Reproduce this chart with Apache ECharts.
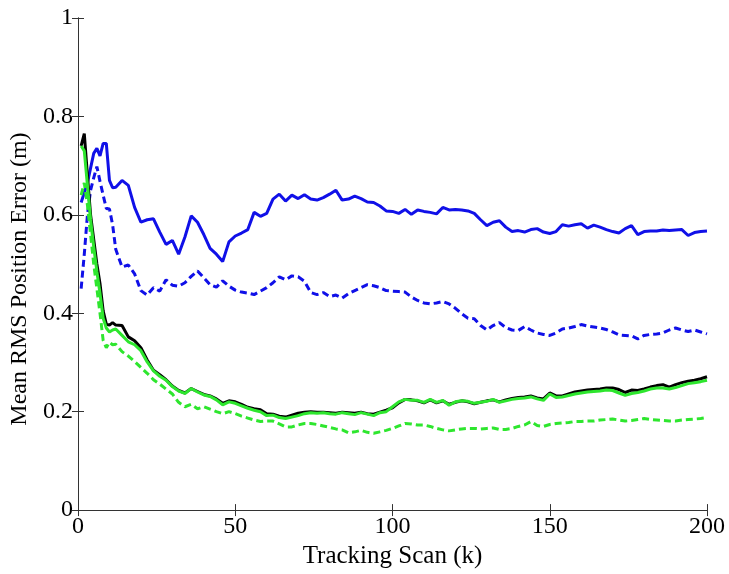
<!DOCTYPE html>
<html>
<head>
<meta charset="utf-8">
<script src="https://cdn.jsdelivr.net/npm/echarts@6/dist/echarts.min.js"></script>
<style>
  html, body { margin: 0; padding: 0; background: #fff; }
  #chart { width: 729px; height: 574px; }
</style>
</head>
<body>
<div id="chart"></div>
<script>
// tracking scan index (k)
const scans = [1, 2, 3, 4, 5, 6, 7, 8, 9, 10, 11, 12,
  14, 16, 18, 20, 22, 24, 26, 28, 30, 32,
  34, 36, 38, 40, 42, 44, 46, 48, 50, 52,
  54, 56, 58, 60, 62, 64, 66, 68, 70, 72,
  74, 76, 78, 80, 82, 84, 86, 88, 90, 92,
  94, 96, 98, 100, 102, 104, 106, 108, 110, 112,
  114, 116, 118, 120, 122, 124, 126, 128, 130, 132,
  134, 136, 138, 140, 142, 144, 146, 148, 150, 152,
  154, 156, 158, 160, 162, 164, 166, 168, 170, 172,
  174, 176, 178, 180, 182, 184, 186, 188, 190, 192,
  194, 196, 198, 200];

const blueSolid = [0.625, 0.645, 0.665, 0.695, 0.725, 0.735, 0.72, 0.745, 0.745, 0.67, 0.655, 0.656,
  0.67, 0.66, 0.615, 0.585, 0.59, 0.592, 0.565, 0.54, 0.548, 0.52,
  0.555, 0.598, 0.585, 0.56, 0.532, 0.52, 0.505, 0.545, 0.557, 0.563,
  0.57, 0.605, 0.597, 0.603, 0.632, 0.642, 0.628, 0.64, 0.633, 0.641,
  0.632, 0.63, 0.635, 0.642, 0.65, 0.63, 0.632, 0.638, 0.633, 0.626,
  0.625, 0.618, 0.608, 0.607, 0.603, 0.611, 0.601, 0.61, 0.607, 0.605,
  0.602, 0.615, 0.61, 0.611, 0.61, 0.608, 0.603, 0.59, 0.578, 0.585,
  0.588, 0.575, 0.566, 0.568, 0.565, 0.57, 0.572, 0.565, 0.562, 0.566,
  0.58, 0.577, 0.58, 0.582, 0.573, 0.579, 0.575, 0.57, 0.566, 0.563,
  0.572, 0.578, 0.56, 0.566, 0.567, 0.567, 0.569, 0.568, 0.569, 0.57,
  0.558, 0.564, 0.566, 0.567];

const blueDashed = [0.45, 0.52, 0.6, 0.65, 0.675, 0.698, 0.668, 0.64, 0.613, 0.612, 0.58, 0.53,
  0.494, 0.498, 0.48, 0.446, 0.437, 0.452, 0.445, 0.468, 0.457, 0.455,
  0.462, 0.475, 0.486, 0.472, 0.458, 0.453, 0.466, 0.455, 0.447, 0.443,
  0.441, 0.438, 0.445, 0.452, 0.462, 0.474, 0.468, 0.476, 0.474, 0.465,
  0.442, 0.438, 0.442, 0.434, 0.437, 0.431, 0.44, 0.446, 0.452, 0.458,
  0.456, 0.452, 0.446, 0.445, 0.444, 0.443, 0.433, 0.426, 0.421, 0.419,
  0.421, 0.424, 0.419, 0.41, 0.399, 0.39, 0.389, 0.375, 0.366, 0.375,
  0.381, 0.371, 0.366, 0.365, 0.373, 0.366, 0.36, 0.357, 0.355, 0.36,
  0.368, 0.37, 0.373, 0.377, 0.374, 0.372, 0.37, 0.367, 0.362, 0.356,
  0.355, 0.354, 0.348, 0.355, 0.357, 0.358, 0.36, 0.366, 0.37, 0.366,
  0.363, 0.366, 0.362, 0.358];

const blackSolid = [0.74, 0.765, 0.68, 0.6, 0.55, 0.5, 0.46, 0.405, 0.378, 0.376, 0.381, 0.376,
  0.375, 0.352, 0.344, 0.33, 0.305, 0.284, 0.275, 0.265, 0.252, 0.243,
  0.238, 0.247, 0.241, 0.235, 0.232, 0.226, 0.217, 0.222, 0.22, 0.215,
  0.209, 0.206, 0.204, 0.196, 0.195, 0.191, 0.189, 0.193, 0.197, 0.199,
  0.2, 0.199, 0.199, 0.198, 0.197, 0.199, 0.198, 0.197, 0.199, 0.196,
  0.195, 0.199, 0.203, 0.208, 0.218, 0.225, 0.224, 0.222, 0.218, 0.224,
  0.218, 0.222, 0.215, 0.219, 0.222, 0.22, 0.216, 0.219, 0.222, 0.224,
  0.22, 0.224, 0.227, 0.229, 0.23, 0.232, 0.228, 0.226, 0.238, 0.232,
  0.232, 0.236, 0.24, 0.242, 0.244, 0.245, 0.246, 0.248, 0.248, 0.245,
  0.239, 0.244, 0.243, 0.246, 0.25, 0.253, 0.255, 0.25, 0.255, 0.259,
  0.262, 0.264, 0.267, 0.271];

const greenSolid = [0.74, 0.73, 0.66, 0.59, 0.535, 0.485, 0.44, 0.39, 0.37, 0.362, 0.366, 0.368,
  0.355, 0.342, 0.336, 0.324, 0.301, 0.283, 0.272, 0.264, 0.251, 0.242,
  0.237, 0.247, 0.24, 0.234, 0.231, 0.224, 0.214, 0.22, 0.217, 0.212,
  0.207, 0.203, 0.2, 0.192, 0.193, 0.188, 0.186, 0.189, 0.192, 0.196,
  0.198, 0.197, 0.198, 0.196, 0.195, 0.198, 0.196, 0.194, 0.198, 0.195,
  0.192, 0.198, 0.2, 0.21, 0.22, 0.225, 0.223, 0.223, 0.219, 0.225,
  0.219, 0.223, 0.213, 0.22, 0.222, 0.221, 0.217, 0.219, 0.221, 0.225,
  0.219, 0.222, 0.225, 0.227, 0.228, 0.23, 0.226, 0.223, 0.236, 0.229,
  0.23, 0.233, 0.236, 0.238, 0.24, 0.241, 0.242, 0.244, 0.243, 0.238,
  0.233, 0.237, 0.239, 0.242, 0.246, 0.248, 0.248, 0.246, 0.249, 0.253,
  0.257, 0.259, 0.261, 0.264];

const greenDashed = [0.64, 0.665, 0.62, 0.56, 0.5, 0.45, 0.4, 0.345, 0.33, 0.341, 0.336, 0.337,
  0.322, 0.313, 0.302, 0.29, 0.278, 0.265, 0.256, 0.246, 0.236, 0.219,
  0.21, 0.215, 0.206, 0.21, 0.205, 0.2, 0.196, 0.2, 0.196, 0.191,
  0.187, 0.183, 0.18, 0.181, 0.181, 0.175, 0.169, 0.169, 0.173, 0.176,
  0.176, 0.174, 0.171, 0.168, 0.165, 0.163, 0.157, 0.159, 0.162, 0.158,
  0.156, 0.159, 0.162, 0.166, 0.171, 0.176, 0.175, 0.173, 0.173, 0.17,
  0.166, 0.163, 0.161, 0.163, 0.165, 0.166, 0.166, 0.165, 0.166, 0.167,
  0.164, 0.164, 0.166, 0.17, 0.173, 0.18, 0.172, 0.17, 0.174, 0.176,
  0.177, 0.178, 0.18, 0.18, 0.181, 0.181, 0.183, 0.184, 0.185, 0.183,
  0.181, 0.182, 0.184, 0.186, 0.184, 0.183, 0.182, 0.181, 0.181, 0.183,
  0.184, 0.185, 0.186, 0.188];

const font = '"Liberation Serif", "Times New Roman", serif';
const pairs = (ys) => scans.map((k, i) => [k, ys[i]]);

const lineSeries = (data, color, dashed) => ({
    type: 'line',
    data: pairs(data),
    showSymbol: false,
    animation: false,
    lineStyle: {
        color: color,
        width: 3,
        type: dashed ? [7, 4] : 'solid',
    },
});

const chart = echarts.init(document.getElementById('chart'));

const frameAxis = {
    type: 'value',
    min: 0,
    axisLine: { show: true, lineStyle: { color: '#333', width: 1 } },
    axisTick: { show: true, inside: true, length: 6, lineStyle: { color: '#333' } },
    splitLine: { show: false },
    axisLabel: { show: false },
};

chart.setOption({
    backgroundColor: '#fff',
    grid: { left: 78, right: 22, top: 18, bottom: 62 },
    xAxis: [
        {
            ...frameAxis,
            max: 200,
            interval: 50,
            position: 'bottom',
            name: 'Tracking Scan (k)',
            nameLocation: 'middle',
            nameGap: 21,
            nameTextStyle: { fontFamily: font, fontSize: 25, color: '#000' },
            axisLabel: { show: true, fontFamily: font, fontSize: 24, color: '#000', margin: 5 },
        },
        { ...frameAxis, max: 200, interval: 50, position: 'top' },
    ],
    yAxis: [
        {
            ...frameAxis,
            max: 1,
            interval: 0.2,
            position: 'left',
            name: 'Mean RMS Position Error (m)',
            nameLocation: 'middle',
            nameGap: 45,
            // nudges the rotated title down a little, like the reference
            nameTextStyle: { fontFamily: font, fontSize: 24, color: '#000', padding: [0, 30, 0, 0] },
            axisLabel: { show: true, fontFamily: font, fontSize: 24, color: '#000', margin: 5 },
        },
        { ...frameAxis, max: 1, interval: 0.2, position: 'right' },
    ],
    series: [
        lineSeries(blueSolid, '#1010e8', false),
        lineSeries(blueDashed, '#1010e8', true),
        lineSeries(blackSolid, '#000000', false),
        lineSeries(greenSolid, '#2ee62e', false),
        lineSeries(greenDashed, '#2ee62e', true),
    ],
});
</script>
</body>
</html>
